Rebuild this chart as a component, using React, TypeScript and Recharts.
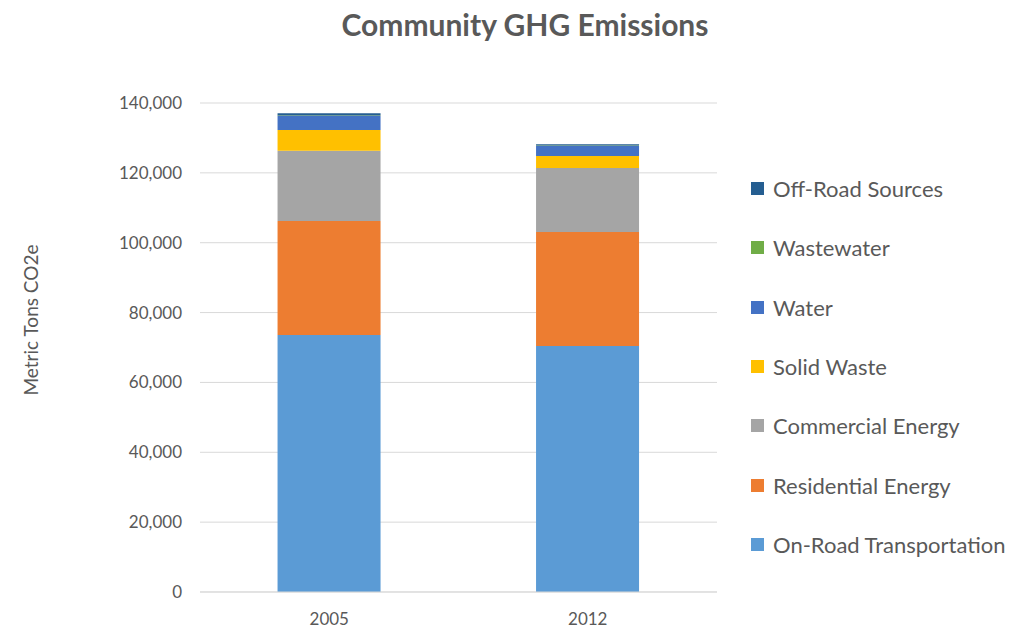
import React from 'react';
import { BarChart, Bar, XAxis, YAxis, CartesianGrid } from 'recharts';

const years = ['2005', '2012'];

const onRoad = [73600, 70400];
const residential = [32600, 32700];
const commercial = [20100, 18300];
const solidWaste = [6000, 3400];
const water = [4000, 2900];
const wastewater = [100, 100];
const offRoad = [700, 400];

const yTicks = [0, 20000, 40000, 60000, 80000, 100000, 120000, 140000];

const SERIES = [
  { key: 'onRoad', name: 'On-Road Transportation', color: '#5b9bd5', values: onRoad },
  { key: 'residential', name: 'Residential Energy', color: '#ed7d31', values: residential },
  { key: 'commercial', name: 'Commercial Energy', color: '#a5a5a5', values: commercial },
  { key: 'solidWaste', name: 'Solid Waste', color: '#ffc000', values: solidWaste },
  { key: 'water', name: 'Water', color: '#4472c4', values: water },
  { key: 'wastewater', name: 'Wastewater', color: '#70ad47', values: wastewater },
  { key: 'offRoad', name: 'Off-Road Sources', color: '#255e91', values: offRoad },
];

const chartData = years.map((year, i) => {
  const row: Record<string, string | number> = { year };
  SERIES.forEach((s) => {
    row[s.key] = s.values[i];
  });
  return row;
});

const FONT = 'Lato, "Open Sans", sans-serif';
const TEXT = '#595959';

// legend is drawn outside the chart so it doesn't eat plot space
const LegendList = () => (
  <div
    style={{
      position: 'absolute',
      left: 751,
      top: 159,
      fontFamily: FONT,
      color: TEXT,
      fontSize: 22,
    }}
  >
    {[...SERIES].reverse().map((s) => (
      <div key={s.key} style={{ display: 'flex', alignItems: 'center', height: 59.3 }}>
        <div style={{ width: 13, height: 13, backgroundColor: s.color, marginRight: 9 }} />
        <span>{s.name}</span>
      </div>
    ))}
  </div>
);

export default function App() {
  return (
    <div style={{ position: 'absolute', left: 0, top: 0, width: 1012, height: 628, background: '#fff' }}>
      <div
        style={{
          position: 'absolute',
          left: 0,
          width: 1050,
          top: 6,
          textAlign: 'center',
          fontFamily: FONT,
          fontWeight: 700,
          fontSize: 30,
          color: TEXT,
        }}
      >
        Community GHG Emissions
      </div>
      <div
        style={{
          position: 'absolute',
          left: 30,
          top: 320,
          transform: 'translate(-50%, -50%) rotate(-90deg)',
          fontFamily: FONT,
          fontSize: 19,
          color: TEXT,
          whiteSpace: 'nowrap',
        }}
      >
        Metric Tons CO2e
      </div>
      <BarChart
        width={1012}
        height={628}
        data={chartData}
        margin={{ top: 103, right: 295, left: 0, bottom: 0 }}
        barCategoryGap="30%"
      >
        <CartesianGrid vertical={false} stroke="#d9d9d9" />
        <XAxis
          dataKey="year"
          height={36}
          axisLine={{ stroke: '#d9d9d9' }}
          tickLine={false}
          tick={{ fill: TEXT, fontSize: 17, fontFamily: FONT }}
          tickMargin={15}
        />
        <YAxis
          width={200}
          domain={[0, 140000]}
          ticks={yTicks}
          axisLine={false}
          tickLine={false}
          tickMargin={12}
          tick={{ fill: TEXT, fontSize: 17, fontFamily: FONT }}
          tickFormatter={(v: number) => v.toLocaleString('en-US')}
        />
        {SERIES.map((s) => (
          <Bar key={s.key} dataKey={s.key} name={s.name} stackId="a" fill={s.color} isAnimationActive={false} />
        ))}
      </BarChart>
      <LegendList />
    </div>
  );
}
